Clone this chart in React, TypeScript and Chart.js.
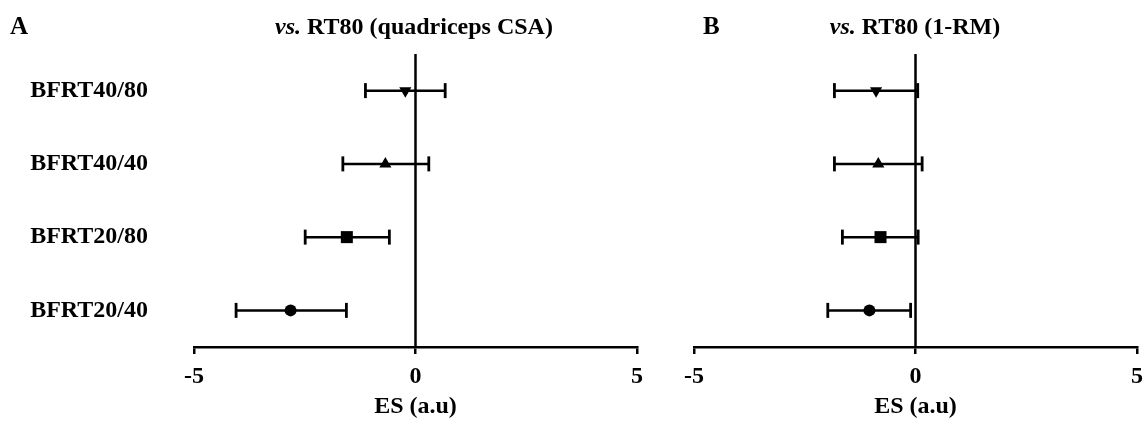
import React, { useEffect, useRef } from 'react';
import { Chart, registerables } from 'chart.js';

Chart.register(...registerables);

// ---- data ----
const categories = ['BFRT40/80', 'BFRT40/40', 'BFRT20/80', 'BFRT20/40'];
const xTickValues = [-5, 0, 5];
const xMin = -5;
const xMax = 5;

// Panel A: vs. RT80 (quadriceps CSA)
const csaEs = [-0.23, -0.68, -1.55, -2.82];
const csaLow = [-1.13, -1.64, -2.49, -4.05];
const csaHigh = [0.67, 0.3, -0.59, -1.56];

// Panel B: vs. RT80 (1-RM)
const rmEs = [-0.89, -0.84, -0.79, -1.04];
const rmLow = [-1.83, -1.83, -1.65, -1.98];
const rmHigh = [0.05, 0.15, 0.06, -0.11];

// ---- styles ----
const FONT_FAMILY = "'Liberation Serif', 'Times New Roman', serif";
const markerStyles = ['triangle', 'triangle', 'rect', 'circle'];
const markerRotations = [180, 0, 0, 0];
const markerRadii = [7, 7, 8.5, 6];
const INK = '#000000';

type PanelProps = {
  es: number[];
  low: number[];
  high: number[];
  showLabels: boolean;
  width: number;
  height: number;
  yAxisWidth: number;
  padding: { left: number; right: number; top: number; bottom: number };
};

function ForestPanel({ es, low, high, showLabels, width, height, yAxisWidth, padding }: PanelProps) {
  const ref = useRef<HTMLCanvasElement | null>(null);

  useEffect(() => {
    if (!ref.current) return;
    const n = categories.length;
    const rowY = (i: number) => n - i;
    const font = { family: FONT_FAMILY, size: 24, weight: 'bold' as const };

    const markerData = es.map((v, i) => ({ x: v, y: rowY(i) }));
    const barSets = categories.map((_, i) => ({
      type: 'line' as const,
      data: [
        { x: low[i], y: rowY(i) },
        { x: high[i], y: rowY(i) },
      ],
      borderColor: INK,
      borderWidth: 2.5,
      pointStyle: 'line' as const,
      pointRotation: 90,
      pointRadius: 7.5,
      pointBorderWidth: 2.8,
      pointBorderColor: INK,
      pointBackgroundColor: INK,
      clip: false as any,
    }));

    const chart = new Chart(ref.current, {
      type: 'line',
      data: {
        datasets: [
          {
            type: 'line',
            data: markerData,
            showLine: false,
            pointStyle: markerStyles as any,
            pointRotation: markerRotations,
            pointRadius: markerRadii,
            pointBackgroundColor: INK,
            pointBorderColor: INK,
            pointBorderWidth: 0,
            clip: false as any,
          },
          ...barSets,
          {
            type: 'line',
            data: [
              { x: 0, y: 0.5 },
              { x: 0, y: n + 0.5 },
            ],
            borderColor: INK,
            borderWidth: 2.5,
            pointRadius: 0,
            clip: false as any,
          },
        ] as any,
      },
      options: {
        animation: false,
        responsive: false,
        devicePixelRatio: 1,
        events: [],
        layout: { padding, autoPadding: false },
        plugins: {
          legend: { display: false },
          tooltip: { enabled: false },
          title: { display: false },
        },
        scales: {
          x: {
            type: 'linear',
            min: xMin,
            max: xMax,
            afterBuildTicks: (s: any) => {
              s.ticks = xTickValues.map((v) => ({ value: v }));
            },
            afterFit: (s: any) => {
              s.height = 74;
              s.paddingLeft = 0;
              s.paddingRight = 0;
            },
            ticks: {
              font,
              color: INK,
              padding: 8,
              maxRotation: 0,
              autoSkip: false,
            },
            grid: {
              display: true,
              drawOnChartArea: false,
              drawTicks: true,
              tickLength: 7,
              color: INK,
              lineWidth: 2.5,
            },
            border: { display: true, color: INK, width: 2.5 },
            title: {
              display: true,
              text: 'ES (a.u)',
              font,
              color: INK,
              padding: 0,
            },
          },
          y: {
            type: 'linear',
            min: 0.5,
            max: n + 0.5,
            display: showLabels,
            afterBuildTicks: (s: any) => {
              s.ticks = categories.map((_, i) => ({ value: rowY(i) }));
            },
            afterFit: (s: any) => {
              s.width = showLabels ? yAxisWidth : 0;
              s.paddingTop = 0;
              s.paddingBottom = 0;
            },
            ticks: {
              font,
              color: INK,
              padding: 38,
              autoSkip: false,
              callback: (v: any) => categories[n - Number(v)],
            },
            grid: { display: false },
            border: { display: false },
          },
        },
      } as any,
    });
    return () => chart.destroy();
  }, [es, low, high, showLabels, padding, yAxisWidth]);

  return <canvas ref={ref} width={width} height={height} style={{ display: 'block', width, height }} />;
}

const PAD_A = { left: 8, right: 28, top: 54, bottom: 0 };
const PAD_B = { left: 29, right: 8, top: 54, bottom: 0 };

const textStyle: React.CSSProperties = {
  position: 'absolute',
  fontFamily: FONT_FAMILY,
  fontWeight: 'bold',
  fontSize: 24,
  lineHeight: '28px',
  color: INK,
  whiteSpace: 'nowrap',
};

export default function App() {
  return (
    <div
      style={{
        position: 'fixed',
        left: 0,
        top: 0,
        width: 1145,
        height: 421,
        background: '#fff',
        overflow: 'hidden',
      }}
    >
      <div style={{ position: 'absolute', left: 0, top: 0 }}>
        <ForestPanel es={csaEs} low={csaLow} high={csaHigh} showLabels={true} width={665} height={421} yAxisWidth={186} padding={PAD_A} />
      </div>
      <div style={{ position: 'absolute', left: 665, top: 0 }}>
        <ForestPanel es={rmEs} low={rmLow} high={rmHigh} showLabels={false} width={480} height={421} yAxisWidth={0} padding={PAD_B} />
      </div>
      <div style={{ ...textStyle, left: 10, top: 12, fontSize: 25 }}>A</div>
      <div style={{ ...textStyle, left: 214, top: 12, width: 400, textAlign: 'center' }}>
        <i>vs.</i> RT80 (quadriceps CSA)
      </div>
      <div style={{ ...textStyle, left: 703, top: 12, fontSize: 25 }}>B</div>
      <div style={{ ...textStyle, left: 715, top: 12, width: 400, textAlign: 'center' }}>
        <i>vs.</i> RT80 (1-RM)
      </div>
    </div>
  );
}
